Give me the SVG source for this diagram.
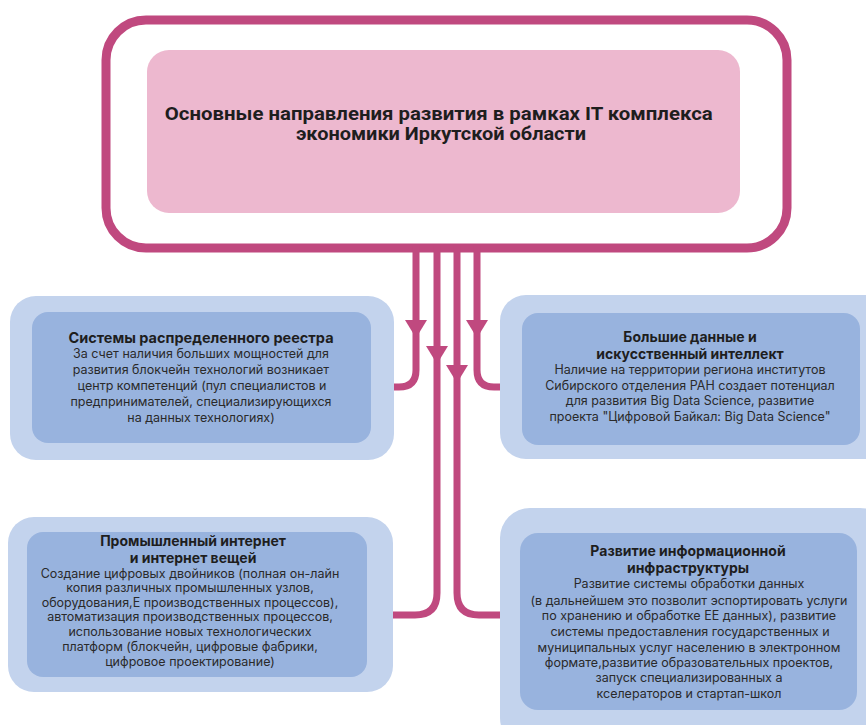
<svg xmlns="http://www.w3.org/2000/svg" width="866" height="725" viewBox="0 0 866 725">
<style>
.outer{fill:#c3d3ed}
.inner{fill:#98b3de}
.title{font-family:Inter,"Liberation Sans",sans-serif;font-weight:700;font-size:14.5px;fill:#1e1e1e;text-anchor:middle}
.title2{font-family:Inter,"Liberation Sans",sans-serif;font-weight:700;font-size:14px;fill:#1e1e1e;text-anchor:middle}
.body{font-family:Inter,"Liberation Sans",sans-serif;font-size:12.5px;fill:#2a2a2a;text-anchor:middle}
.conn{fill:none;stroke:#c0497f;stroke-width:7}
.arrow{fill:#c0497f}
</style>
<rect width="866" height="725" fill="#ffffff"/>
<g id="main">
<rect x="106" y="20" width="681" height="228" rx="40" fill="#ffffff" stroke="#c0497f" stroke-width="9"/>
<rect x="147" y="50" width="593" height="163" rx="22" fill="#edb8cf"/>
<text font-family="Roboto,'Liberation Sans',sans-serif" font-weight="700" font-size="18" fill="#1e1e1e" text-anchor="middle">
<tspan x="441" y="120" textLength="548" lengthAdjust="spacingAndGlyphs">Основные направления развития в рамках IT комплекса</tspan>
<tspan x="441" y="140" textLength="290" lengthAdjust="spacingAndGlyphs">экономики Иркутской области</tspan>
</text>
</g>
<g id="connectors">
<path class="conn" d="M416 246 V370 Q416 387 399 387 H392"/>
<path class="conn" d="M477 246 V370 Q477 387 494 387 H501"/>
<path class="conn" d="M437 246 V593 Q437 615 415 615 H392"/>
<path class="conn" d="M457 246 V593 Q457 615 479 615 H501"/>
<polygon class="arrow" points="405,320 427,320 416,338"/>
<polygon class="arrow" points="466,320 488,320 477,338"/>
<polygon class="arrow" points="426,346 448,346 437,364"/>
<polygon class="arrow" points="446,365 468,365 457,383"/>
</g>
<g id="node-registry">
<rect class="outer" x="10" y="296" width="384" height="164" rx="26"/>
<rect class="inner" x="32" y="312" width="339" height="131" rx="16"/>
<text class="title" x="201" y="343">Системы распределенного реестра</text>
<text class="body"><tspan x="201" y="358">За счет наличия больших мощностей для</tspan><tspan x="201" y="374">развития блокчейн технологий возникает</tspan><tspan x="202" y="390">центр компетенций (пул специалистов и</tspan><tspan x="201" y="406">предпринимателей, специализирующихся</tspan><tspan x="201" y="422">на данных технологиях)</tspan></text>
</g>
<g id="node-bigdata">
<rect class="outer" x="500" y="295" width="390" height="164" rx="26"/>
<rect class="inner" x="522" y="313" width="338" height="132" rx="16"/>
<text class="title2" x="690" y="342">Большие данные и</text>
<text class="title2" x="690" y="359">искусственный интеллект</text>
<text class="body"><tspan x="690" y="374">Наличие на территории региона институтов</tspan><tspan x="690" y="390">Сибирского отделения РАН создает потенциал</tspan><tspan x="690" y="405">для развития Big Data Science, развитие</tspan><tspan x="690" y="421">проекта "Цифровой Байкал: Big Data Science"</tspan></text>
</g>
<g id="node-iot">
<rect class="outer" x="8" y="517" width="385" height="175" rx="26"/>
<rect class="inner" x="27" y="532" width="340" height="145" rx="16"/>
<text class="title2" x="193" y="546">Промышленный интернет</text>
<text class="title2" x="193" y="563">и интернет вещей</text>
<text class="body"><tspan x="190" y="578">Создание цифровых двойников (полная он-лайн</tspan><tspan x="190" y="592">копия различных промышленных узлов,</tspan><tspan x="190" y="607">оборудования,Е производственных процессов),</tspan><tspan x="190" y="621">автоматизация производственных процессов,</tspan><tspan x="190" y="636">использование новых технологических</tspan><tspan x="190" y="651">платформ (блокчейн, цифровые фабрики,</tspan><tspan x="190" y="666">цифровое проектирование)</tspan></text>
</g>
<g id="node-infra">
<rect class="outer" x="500" y="508" width="390" height="240" rx="30"/>
<rect class="inner" x="520" y="533" width="337" height="177" rx="18"/>
<text class="title2" x="688" y="556">Развитие информационной</text>
<text class="title2" x="688" y="573">инфраструктуры</text>
<text class="body"><tspan x="689" y="588">Развитие системы обработки данных</tspan><tspan x="689" y="605">(в дальнейшем это позволит эспортировать услуги</tspan><tspan x="689" y="620">по хранению и обработке ЕЕ данных), развитие</tspan><tspan x="690" y="636">системы предоставления государственных и</tspan><tspan x="689" y="652">муниципальных услуг населению в электронном</tspan><tspan x="689" y="667">формате,развитие образовательных проектов,</tspan><tspan x="689" y="682">запуск специализированных а</tspan><tspan x="689" y="698">кселераторов и стартап-школ</tspan></text>
</g>
</svg>
